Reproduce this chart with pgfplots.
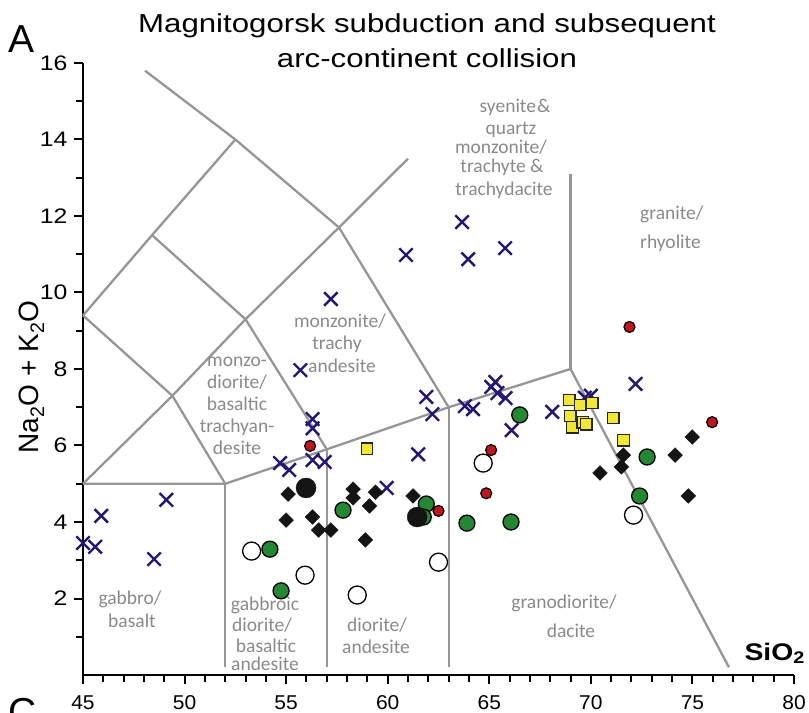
\documentclass[border=0pt]{standalone}
\usepackage{fontspec}
\setmainfont{Liberation Sans}
\newfontfamily\ytickfont{Liberation Sans}[FakeStretch=1.18]
\newfontfamily\xtickfont{Liberation Sans}[FakeStretch=1.05]
\newfontfamily\titlefont{Liberation Sans}[FakeStretch=1.2]
\newfontfamily\regfont{Carlito}
\usepackage{pgfplots}
\pgfplotsset{compat=1.18}
\definecolor{crossblue}{RGB}{38,22,115}
\definecolor{dgreen}{RGB}{36,135,52}
\definecolor{dred}{RGB}{190,22,30}
\definecolor{dyellow}{RGB}{242,232,50}
\definecolor{lgray}{RGB}{150,150,150}
\definecolor{tgray}{RGB}{138,138,138}
\tikzset{reg/.style={font=\regfont\fontsize{19.5bp}{22bp}\selectfont, text=tgray, anchor=base, inner sep=0pt}}
\begin{document}
\begin{tikzpicture}
\begin{axis}[
  scale only axis, width=711bp, height=612bp,
  xmin=45, xmax=80, ymin=0, ymax=16,
  axis x line=bottom, axis y line=left,
  axis line style={-, line width=2.2bp, black},
  xtick={45,50,...,80}, ytick={2,4,...,16},
  minor xtick={45,...,80}, minor ytick={1,3,...,15},
  tick align=outside,
  major tick length=9bp, minor tick length=7bp,
  every tick/.style={line width=2bp, black},
  /pgf/number format/assume math mode=true,
  xticklabel style={font=\xtickfont\fontsize{20bp}{24bp}\selectfont, yshift=-8bp},
  yticklabel style={font=\ytickfont\fontsize{21bp}{24bp}\selectfont, xshift=-3bp},
  clip=false,
]
% TAS field boundaries
\addplot[lgray, line width=2.3bp] coordinates {(48.05,15.8) (52.5,14) (57.6,11.7) (63,7)};
\addplot[lgray, line width=2.3bp] coordinates {(45,9.4) (48.4,11.5) (52.5,14)};
\addplot[lgray, line width=2.3bp] coordinates {(45,9.4) (49.4,7.3) (52,5)};
\addplot[lgray, line width=2.3bp] coordinates {(48.4,11.5) (53,9.3) (57,5.9)};
\addplot[lgray, line width=2.3bp] coordinates {(45,5) (49.4,7.3) (53,9.3) (57.6,11.7) (61,13.5)};
\addplot[lgray, line width=2.3bp] coordinates {(45,5) (52,5) (57,5.9) (63,7) (69,8) (76.8,0.2)};
\addplot[lgray, line width=2.3bp] coordinates {(52,5) (52,0.2)};
\addplot[lgray, line width=2.3bp] coordinates {(57,5.9) (57,0.2)};
\addplot[lgray, line width=2.3bp] coordinates {(63,7) (63,0.2)};
\addplot[lgray, line width=2.3bp] coordinates {(69,8) (69,13.1)};
% crosses
\addplot[only marks, color=crossblue, mark=x, mark size=9.5bp, mark options={line width=2.4bp}] coordinates {
(45.0,3.45) (45.6,3.35) (45.9,4.16) (48.5,3.03) (49.1,4.58) (54.7,5.54) (55.15,5.36) (55.7,7.97)
(56.3,6.69) (56.3,6.45) (56.3,5.62) (56.9,5.57) (57.2,9.83) (59.95,4.89) (60.9,10.98) (61.5,5.77)
(61.9,7.27) (62.2,6.82) (63.66,11.84) (63.8,7.03) (63.96,10.87) (64.2,6.95) (65.1,7.53) (65.3,7.66)
(65.4,7.37) (65.78,11.16) (65.8,7.24) (66.1,6.4) (68.1,6.88) (69.7,7.25) (70.0,7.3) (72.2,7.61)};
% diamonds
\addplot[only marks, mark=square*, mark size=5.2bp, mark options={rotate=45, fill=black!92, draw=black!92}] coordinates {
(55.1,4.73) (55.0,4.05) (56.3,4.13) (56.6,3.79) (57.2,3.79) (58.3,4.86) (58.3,4.63) (59.4,4.78)
(59.1,4.42) (58.9,3.53) (61.25,4.68) (70.45,5.28) (71.6,5.75) (71.5,5.44) (74.15,5.75) (74.99,6.22) (74.8,4.68)};
% white circles
\addplot[only marks, mark=*, mark size=9bp, mark options={fill=white, draw=black, line width=1.3bp}] coordinates {
(53.3,3.24) (55.93,2.61) (58.5,2.09) (62.5,2.95) (64.7,5.54) (72.1,4.18)};
% green circles
\addplot[only marks, mark=*, mark size=8bp, mark options={fill=dgreen, draw=black, line width=1.3bp}] coordinates {
(57.8,4.31) (54.2,3.29) (54.75,2.2) (61.9,4.47) (61.75,4.13) (66.5,6.8) (63.9,3.97) (66.07,4.0) (72.77,5.7) (72.4,4.68)};
% big black circles
\addplot[only marks, mark=*, mark size=10bp, mark options={fill=black!92, draw=black!92}] coordinates {
(55.98,4.89) (61.45,4.13)};
% red circles
\addplot[only marks, mark=*, mark size=5.5bp, mark options={fill=dred, draw=black, line width=1.2bp}] coordinates {
(56.18,5.99) (62.5,4.29) (65.09,5.88) (64.85,4.75) (71.9,9.1) (75.97,6.61)};
% yellow squares
\addplot[only marks, mark=square*, mark size=5.8bp, mark options={fill=dyellow, draw=black!85, line width=1.3bp}] coordinates {
(58.98,5.91) (68.93,7.19) (69.47,7.06) (70.06,7.11) (68.98,6.77) (69.1,6.48) (69.6,6.61) (69.77,6.56) (71.1,6.72) (71.6,6.14)};
\end{axis}
% titles and labels
\node[font=\titlefont\fontsize{26bp}{30bp}\selectfont, anchor=base, inner sep=0pt] at (344bp,642bp) {Magnitogorsk subduction and subsequent};
\node[font=\titlefont\fontsize{26bp}{30bp}\selectfont, anchor=base, inner sep=0pt] at (344bp,607bp) {arc-continent collision};
\node[font=\fontsize{39bp}{44bp}\selectfont, anchor=base, inner sep=0pt] at (-61bp,622bp) {A};
\node[font=\fontsize{39bp}{44bp}\selectfont, anchor=base, inner sep=0pt] at (-60bp,-50bp) {C};
\node[font=\fontsize{28bp}{32bp}\selectfont, anchor=base, rotate=90, inner sep=0pt] at (-44bp,298bp) {Na\textsubscript{2}O + K\textsubscript{2}O};
\node[font=\ytickfont\bfseries\fontsize{24bp}{28bp}\selectfont, anchor=base east, inner sep=0pt] at (722bp,15bp) {SiO\textsubscript{2}};
% field names
\node[reg] at (432bp,562bp) {syenite\kern1pt\&};
\node[reg] at (428bp,540bp) {quartz};
\node[reg] at (418bp,521bp) {monzonite/};
\node[reg] at (419bp,502bp) {trachyte \&};
\node[reg] at (421bp,479bp) {trachydacite};
\node[reg, anchor=base west] at (557bp,455bp) {granite/};
\node[reg, anchor=base west] at (557bp,426bp) {rhyolite};
\node[reg] at (257bp,347bp) {monzonite/};
\node[reg] at (254bp,325bp) {trachy};
\node[reg] at (259bp,302bp) {andesite};
\node[reg] at (154bp,308bp) {monzo-};
\node[reg] at (154bp,286bp) {diorite/};
\node[reg] at (154bp,264bp) {basaltic};
\node[reg] at (154bp,242bp) {trachyan-};
\node[reg] at (154bp,220bp) {desite};
\node[reg] at (47bp,70bp) {gabbro/};
\node[reg] at (49bp,47bp) {basalt};
\node[reg] at (182bp,64bp) {gabbroic};
\node[reg] at (179bp,43bp) {diorite/};
\node[reg] at (183bp,23bp) {basaltic};
\node[reg] at (182bp,5bp) {andesite};
\node[reg] at (294bp,43bp) {diorite/};
\node[reg] at (293bp,22bp) {andesite};
\node[reg] at (481bp,66bp) {granodiorite/};
\node[reg] at (488bp,38bp) {dacite};
\pgfresetboundingbox
\path[use as bounding box] (-83bp,-38bp) rectangle (726bp,675bp);
\end{tikzpicture}
\end{document}
